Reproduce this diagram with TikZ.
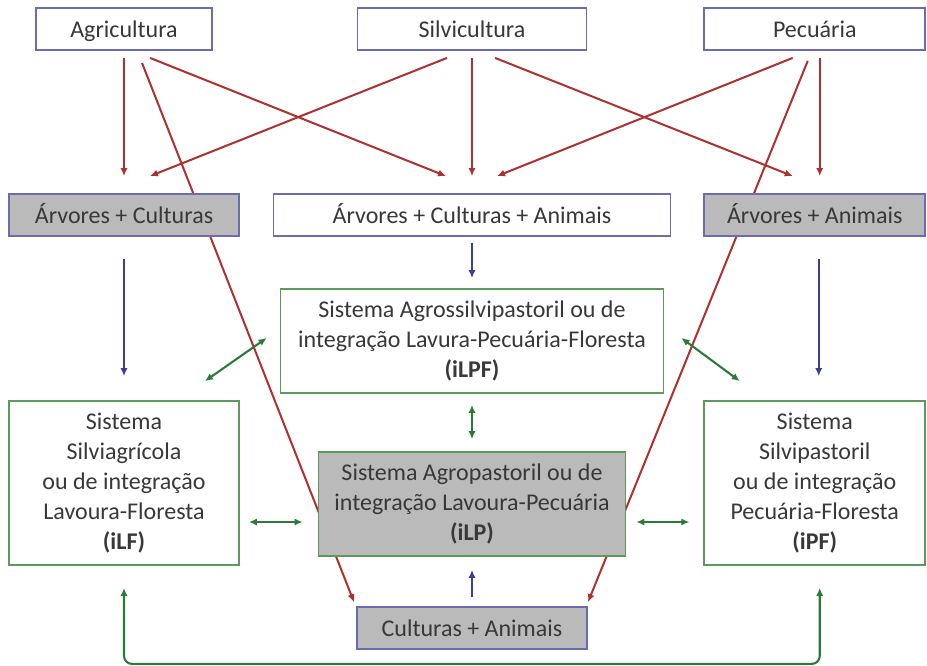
\documentclass[tikz,border=0pt]{standalone}
\usepackage{fontspec}
\setmainfont{Carlito}
\usetikzlibrary{calc,arrows.meta}
\pgfdeclarelayer{bg}
\pgfsetlayers{bg,main}
\definecolor{txt}{HTML}{383838}
\definecolor{bbord}{HTML}{6B6BB5}
\definecolor{gbord}{HTML}{5C9A5C}
\definecolor{gfill}{HTML}{BABABA}
\definecolor{redar}{HTML}{B03030}
\definecolor{bluar}{HTML}{3C3C9C}
\definecolor{grnar}{HTML}{2A7A3A}
\tikzset{
  box/.style={draw=bbord, line width=0.9pt, fill=white, inner sep=0pt, align=center,
    text=txt, font=\fontsize{12}{15}\selectfont, minimum height=21pt},
  oneline/.style={text height=9.6pt, text depth=1.6pt},
  sysbox/.style={box, draw=gbord},
  grayfill/.style={fill=gfill},
  tip/.style={-{Latex[length=4pt,width=3.6pt]}},
  redarrow/.style={tip, draw=redar, line width=1pt},
  bluearrow/.style={tip, draw=bluar, line width=1pt},
  greenarrow/.style={{Latex[length=4pt,width=3.6pt]}-{Latex[length=4pt,width=3.6pt]}, draw=grnar, line width=1.05pt},
}
\begin{document}
\begin{tikzpicture}[x=0.5pt,y=-0.5pt]
\useasboundingbox (0,0) rectangle (927,665);
% top row
\node[box, oneline, minimum width=88pt] (agri) at (124,29) {Agricultura};
\node[box, oneline, minimum width=114.5pt] (silv) at (472,29) {Silvicultura};
\node[box, oneline, minimum width=110.5pt] (pec) at (814.75,29) {Pecuária};
% second row
\node[box, oneline, grayfill, minimum width=115pt] (ac) at (124,215) {Árvores + Culturas};
\node[box, oneline, minimum width=198.5pt] (aca) at (472,215) {Árvores + Culturas + Animais};
\node[box, oneline, grayfill, minimum width=110.5pt] (aa) at (814.75,215) {Árvores + Animais};
% systems
\node[sysbox, minimum width=191.5pt, minimum height=52pt] (ilpf) at (472,341)
  {Sistema Agrossilvipastoril ou de\\integração Lavura-Pecuária-Floresta\\\textbf{(iLPF)}};
\node[sysbox, minimum width=115pt, minimum height=82pt] (ilf) at (124,483)
  {Sistema\\Silviagrícola\\ou de integração\\Lavoura-Floresta\\\textbf{(iLF)}};
\node[sysbox, grayfill, minimum width=153.5pt, minimum height=52pt] (ilp) at (472,504)
  {Sistema Agropastoril ou de\\integração Lavoura-Pecuária\\\textbf{(iLP)}};
\node[sysbox, minimum width=110.5pt, minimum height=82pt] (ipf) at (814.75,483)
  {Sistema\\Silvipastoril\\ou de integração\\Pecuária-Floresta\\\textbf{(iPF)}};
\node[box, oneline, grayfill, minimum width=115pt] (ca) at (472,628) {Culturas + Animais};
% red arrows (behind boxes)
\begin{pgfonlayer}{bg}
\draw[redarrow] ($(agri.south)+(0,7)$) -- ($(ac.north)+(0,-17)$);
\draw[redarrow] ($(agri.south)+(18,12)$) -- ($(ca.north)+(-118,-4)$);
\draw[redarrow] ($(agri.south)+(26,7)$) -- ($(aca.north)+(-26,-17)$);
\draw[redarrow] ($(silv.south)+(-25,7)$) -- ($(ac.north)+(26,-17)$);
\draw[redarrow] ($(silv.south)+(0,7)$) -- ($(aca.north)+(0,-17)$);
\draw[redarrow] ($(silv.south)+(23,7)$) -- ($(aa.north)+(-22,-17)$);
\draw[redarrow] ($(pec.south)+(-22,7)$) -- ($(aca.north)+(25,-17)$);
\draw[redarrow] ($(pec.south)+(5,7)$) -- ($(aa.north)+(5,-17)$);
\draw[redarrow] ($(pec.south)+(-7,10)$) -- ($(ca.north)+(116,-4)$);
\end{pgfonlayer}
% blue arrows
\draw[bluearrow] ($(ac.south)+(0,22)$) -- ($(ilf.north)+(0,-24)$);
\draw[bluearrow] ($(aca.south)+(0,6)$) -- ($(ilpf.north)+(0,-10)$);
\draw[bluearrow] ($(aa.south)+(4,22)$) -- ($(ipf.north)+(4,-24)$);
\draw[bluearrow] ($(ca.north)+(0,-9)$) -- ($(ilp.south)+(0,13)$);
% green arrows
\draw[greenarrow] ($(ilf.north)+(81,-19)$) -- ($(ilpf.west)+(-13,-3)$);
\draw[greenarrow] ($(ilpf.east)+(17,-3)$) -- ($(ipf.north)+(-75,-19)$);
\draw[greenarrow] ($(ilpf.south)+(0,11)$) -- ($(ilp.north)+(0,-12)$);
\draw[greenarrow] ($(ilf.east)+(9,39)$) -- ($(ilp.west)+(-15,18)$);
\draw[greenarrow] ($(ilp.east)+(10,18)$) -- ($(ipf.west)+(-14,39)$);
\draw[greenarrow, rounded corners=4pt] ($(ilf.south)+(0,22)$) |- ($(ca.south)+(0,14)$) -| ($(ipf.south)+(5,22)$);
\end{tikzpicture}
\end{document}
